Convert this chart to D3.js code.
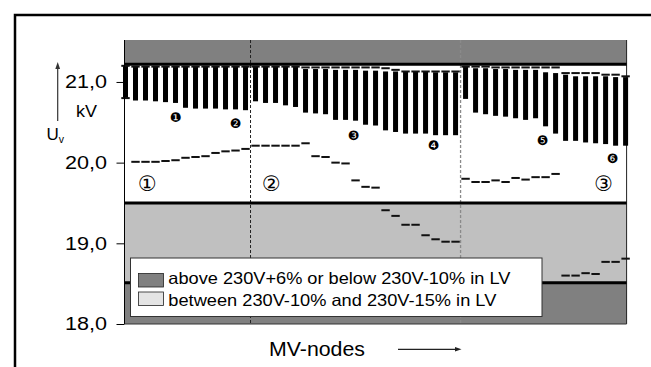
<!DOCTYPE html>
<html>
<head>
<meta charset="utf-8">
<script src="https://cdn.jsdelivr.net/npm/d3@7"></script>
<style>
  body { margin: 0; background: #fff; }
  svg { display: block; }
</style>
</head>
<body>
<div id="chart"></div>
<script>
// MV nodes 0..50, three feeders
const nodes = d3.range(51);
const feederBreaks = [12.5, 33.5];

// black bars: voltage band at each node (kV)
const barHigh = [
  21.20, 21.20, 21.20, 21.20, 21.20, 21.20, 21.20, 21.20, 21.20, 21.20, 21.20, 21.20, 21.20,
  21.20, 21.20, 21.20, 21.20, 21.20, 21.16, 21.16, 21.16, 21.15, 21.15, 21.15, 21.14, 21.14,
  21.13, 21.13, 21.13, 21.13, 21.13, 21.12, 21.12, 21.12,
  21.20, 21.17, 21.17, 21.16, 21.16, 21.15, 21.15, 21.15, 21.12, 21.11, 21.09, 21.07, 21.07,
  21.07, 21.07, 21.06, 21.06
];
const barLow = [
  20.80, 20.77, 20.77, 20.76, 20.75, 20.74, 20.68, 20.67, 20.67, 20.67, 20.66, 20.66, 20.65,
  20.76, 20.74, 20.74, 20.71, 20.69, 20.62, 20.61, 20.60, 20.53, 20.53, 20.52, 20.47, 20.46,
  20.40, 20.38, 20.36, 20.36, 20.36, 20.34, 20.34, 20.34,
  20.79, 20.62, 20.60, 20.58, 20.57, 20.55, 20.53, 20.55, 20.45, 20.36, 20.27, 20.27, 20.25,
  20.24, 20.23, 20.21, 20.21
];

// dash markers: max / min of the second case
const dashHigh = [
  21.20, 21.19, 21.19, 21.19, 21.19, 21.19, 21.19, 21.19, 21.19, 21.19, 21.19, 21.19, 21.19,
  21.19, 21.19, 21.19, 21.19, 21.19, 21.18, 21.18, 21.18, 21.18, 21.18, 21.18, 21.18, 21.18,
  21.17, 21.15, 21.13, 21.13, 21.13, 21.13, 21.13, 21.13,
  21.19, 21.19, 21.19, 21.18, 21.18, 21.18, 21.18, 21.18, 21.18, 21.18, 21.11, 21.11, 21.11,
  21.11, 21.09, 21.09, 21.07
];
const dashLow = [
  20.80, 20.01, 20.01, 20.01, 20.02, 20.03, 20.06, 20.07, 20.08, 20.12, 20.14, 20.15, 20.17,
  20.21, 20.21, 20.21, 20.21, 20.21, 20.24, 20.08, 20.07, 20.00, 19.99, 19.78, 19.70, 19.69,
  19.41, 19.34, 19.23, 19.23, 19.10, 19.05, 19.02, 19.02,
  19.80, 19.76, 19.76, 19.78, 19.76, 19.81, 19.79, 19.82, 19.82, 19.86, 18.60, 18.60, 18.63,
  18.62, 18.77, 18.77, 18.81
];

// limits (kV) and bands
const upperLimit = 21.22;
const lowerLimit = 19.5;
const lowLimit2 = 18.51;
const yTicks = [18, 19, 20, 21];
const tickLabels = ["18,0", "19,0", "20,0", "21,0"];

const legendLabels = [
  "above 230V+6% or below 230V-10% in LV",
  "between 230V-10% and 230V-15% in LV"
];

// annotation marks [node, kV, glyph]
const blackMarks = [[5, 20.56, "\u2776"], [11, 20.49, "\u2777"], [22.8, 20.34, "\u2778"],
  [30.8, 20.21, "\u2779"], [41.7, 20.27, "\u277A"], [48.7, 20.05, "\u277B"]];
const feederMarks = [[2.2, 19.74, "\u2460"], [14.6, 19.74, "\u2461"], [47.8, 19.74, "\u2462"]];

const w = 651, h = 367;
const padL = 124.5, padR = 626.6, padT = 40, padB = 324;

const svg = d3.select("#chart").append("svg")
  .attr("width", w)
  .attr("height", h);

const x = d3.scaleLinear().domain([-0.1, 50.1]).range([padL, padR]);
const y = d3.scaleLinear().domain([18, 21.52]).range([padB, padT]);

const dark = "#808080", light = "#c0c0c0";
const font = "'Liberation Sans', Arial, sans-serif";

// outer frame
svg.append("path")
  .attr("d", `M15,${h} V15 H${w}`)
  .attr("fill", "none")
  .attr("stroke", "#000")
  .attr("stroke-width", 2.5);

// background bands
const bands = [
  [21.52, upperLimit, dark],
  [upperLimit, lowerLimit, "#fff"],
  [lowerLimit, lowLimit2, light],
  [lowLimit2, 18, dark]
];
svg.append("g").selectAll("rect")
  .data(bands)
  .enter()
  .append("rect")
  .attr("x", padL)
  .attr("width", padR - padL)
  .attr("y", d => y(d[0]))
  .attr("height", d => y(d[1]) - y(d[0]))
  .attr("fill", d => d[2]);

// feeder separators
svg.append("g").selectAll("line")
  .data(feederBreaks)
  .enter()
  .append("line")
  .attr("x1", d => x(d)).attr("x2", d => x(d))
  .attr("y1", padT).attr("y2", padB)
  .attr("stroke", (d, i) => i == 0 ? "#222" : "#8a8a8a")
  .attr("stroke-width", (d, i) => i == 0 ? 1 : 1.3)
  .attr("stroke-dasharray", "3,2");

// right border
svg.append("line")
  .attr("x1", padR).attr("x2", padR)
  .attr("y1", padT).attr("y2", padB)
  .attr("stroke", "#222");

// limit lines
svg.append("g").selectAll("line")
  .data([upperLimit, lowerLimit, lowLimit2])
  .enter()
  .append("line")
  .attr("x1", padL).attr("x2", padR)
  .attr("y1", d => y(d)).attr("y2", d => y(d))
  .attr("stroke", "#000")
  .attr("stroke-width", 3);

// bars
const barW = 5;
svg.append("g").selectAll("rect")
  .data(nodes)
  .enter()
  .append("rect")
  .attr("x", d => x(d) - barW / 2)
  .attr("width", barW)
  .attr("y", d => y(barHigh[d]))
  .attr("height", d => y(barLow[d]) - y(barHigh[d]))
  .attr("fill", "#000");

// dashes
const dashW = 8.4;
const drawDashes = (vals) => {
  svg.append("g").selectAll("line")
    .data(nodes)
    .enter()
    .append("line")
    .attr("x1", d => x(d) - dashW / 2)
    .attr("x2", d => x(d) + dashW / 2)
    .attr("y1", d => y(vals[d]))
    .attr("y2", d => y(vals[d]))
    .attr("stroke", "#111")
    .attr("stroke-width", 2);
};
drawDashes(dashHigh);
drawDashes(dashLow);

// annotation glyphs
svg.append("g").selectAll("text")
  .data(blackMarks)
  .enter()
  .append("text")
  .text(d => d[2])
  .attr("x", d => x(d[0]))
  .attr("y", d => y(d[1]))
  .attr("text-anchor", "middle")
  .attr("dominant-baseline", "central")
  .attr("font-family", "'DejaVu Sans', 'Noto Sans CJK JP', sans-serif")
  .attr("font-size", 13)
  .attr("fill", "#000");

svg.append("g").selectAll("text")
  .data(feederMarks)
  .enter()
  .append("text")
  .text(d => d[2])
  .attr("x", d => x(d[0]))
  .attr("y", d => y(d[1]))
  .attr("text-anchor", "middle")
  .attr("dominant-baseline", "central")
  .attr("font-family", "'DejaVu Sans', 'Noto Sans CJK JP', sans-serif")
  .attr("font-size", 21)
  .attr("fill", "#000");

// y axis
const yAxis = d3.axisLeft(y)
  .tickValues(yTicks)
  .tickSize(8)
  .tickFormat((d, i) => tickLabels[i]);

const ax = svg.append("g")
  .attr("transform", `translate(${padL},0)`)
  .call(yAxis);
ax.select(".domain").remove();
ax.selectAll("line").attr("stroke", "#000");
ax.selectAll("text")
  .attr("font-family", font)
  .attr("font-size", 18)
  .attr("fill", "#000")
  .attr("x", -17.5)
  .attr("textLength", 42)
  .attr("lengthAdjust", "spacingAndGlyphs");

svg.append("line")
  .attr("x1", padL).attr("x2", padL)
  .attr("y1", padT).attr("y2", padB)
  .attr("stroke", "#000");
svg.append("line")
  .attr("x1", padL).attr("x2", padR)
  .attr("y1", padB).attr("y2", padB)
  .attr("stroke", "#333");

// axis title with arrow
svg.append("line")
  .attr("x1", 57.7).attr("x2", 57.7)
  .attr("y1", 68).attr("y2", 121)
  .attr("stroke", "#333").attr("stroke-width", 1.2);
svg.append("path")
  .attr("d", "M57.7,62 L55.3,69 L60.1,69 Z")
  .attr("fill", "#333");

svg.append("text")
  .text("kV")
  .attr("x", 76).attr("y", 117.3)
  .attr("font-family", font).attr("font-size", 16.5)
  .attr("textLength", 21).attr("lengthAdjust", "spacingAndGlyphs");

const ut = svg.append("text")
  .attr("x", 46.5).attr("y", 140)
  .attr("font-family", font).attr("font-size", 17);
ut.append("tspan").text("U");
ut.append("tspan").text("v").attr("font-size", 10.5).attr("dy", 3);

// x title
svg.append("text")
  .text("MV-nodes")
  .attr("x", 269).attr("y", 356)
  .attr("font-family", font).attr("font-size", 19.5)
  .attr("textLength", 96).attr("lengthAdjust", "spacingAndGlyphs");
svg.append("line")
  .attr("x1", 398).attr("x2", 456)
  .attr("y1", 349.3).attr("y2", 349.3)
  .attr("stroke", "#222").attr("stroke-width", 1.2);
svg.append("path")
  .attr("d", "M461.5,349.3 L455,347 L455,351.6 Z")
  .attr("fill", "#222");

// legend
const lg = svg.append("g");
lg.append("rect")
  .attr("x", 130.5).attr("y", 258)
  .attr("width", 411.5).attr("height", 58.5)
  .attr("fill", "#fff")
  .attr("stroke", "#333").attr("stroke-width", 1);

const legendFill = [dark, "#e4e4e4"];
const legendWidth = [342, 328];
legendLabels.forEach((lab, i) => {
  lg.append("rect")
    .attr("x", 138.5).attr("y", 273.5 + i * 18.5)
    .attr("width", 25).attr("height", 13.5)
    .attr("fill", legendFill[i])
    .attr("stroke", "#222").attr("stroke-width", 0.8);
  lg.append("text")
    .text(lab)
    .attr("x", 168.3).attr("y", 284 + i * 22)
    .attr("font-family", font).attr("font-size", 16.5)
    .attr("textLength", legendWidth[i]).attr("lengthAdjust", "spacingAndGlyphs");
});
</script>
</body>
</html>
